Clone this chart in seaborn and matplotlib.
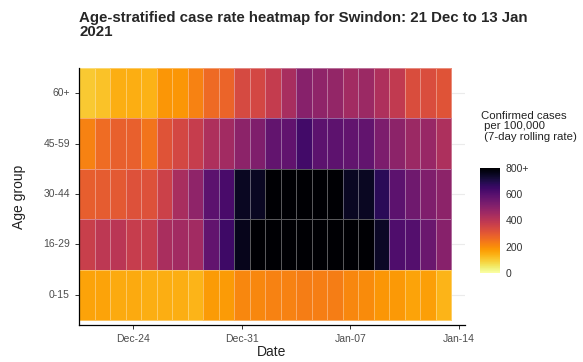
import numpy as np
import pandas as pd
import matplotlib
matplotlib.use("Agg")
import matplotlib.pyplot as plt
import seaborn as sns

# Age groups (top to bottom) and dates
age_groups = ["60+", "45-59", "30-44", "16-29", "0-15"]
dates = pd.date_range("2020-12-21", "2021-01-13", freq="D")

# Case rate per 100,000 (7-day rolling)
rate_60 = [100, 115, 145, 145, 140, 185, 185, 220, 265, 275, 340, 345,
           380, 440, 505, 490, 480, 450, 465, 425, 385, 330, 330, 315]
rate_45 = [220, 260, 285, 285, 245, 315, 345, 375, 425, 450, 495, 520,
           575, 580, 640, 590, 585, 575, 575, 525, 495, 465, 470, 430]
rate_30 = [290, 295, 300, 320, 320, 365, 440, 490, 590, 625, 750, 750,
           880, 900, 920, 900, 860, 750, 750, 680, 590, 550, 520, 495]
rate_16 = [370, 395, 400, 375, 375, 435, 450, 450, 575, 645, 760, 850,
           900, 950, 960, 940, 920, 880, 850, 745, 615, 605, 560, 505]
rate_0 = [165, 165, 150, 150, 145, 145, 145, 135, 175, 175, 210, 210,
          220, 220, 230, 225, 230, 210, 205, 185, 180, 165, 170, 135]

tick_dates = ["Dec-24", "Dec-31", "Jan-07", "Jan-14"]
cbar_ticks = [0, 200, 400, 600, 800]
cbar_labels = ["0", "200", "400", "600", "800+"]

df = pd.DataFrame([rate_60, rate_45, rate_30, rate_16, rate_0],
                  index=age_groups, columns=dates)

sns.set_style("white")
plt.rcParams["font.family"] = ["Liberation Sans", "DejaVu Sans"]

fig = plt.figure(figsize=(5.83, 3.62), dpi=100)
ax = fig.add_axes([79 / 583, 1 - 325 / 362, 386 / 583, 257 / 362])
cax = fig.add_axes([480 / 583, 1 - 273 / 362, 20 / 583, 105 / 362])

sns.heatmap(df, ax=ax, cmap="inferno_r", vmin=0, vmax=800,
            linewidths=0.4, linecolor=(1, 1, 1, 0.35),
            xticklabels=False, yticklabels=True, cbar_ax=cax)

# light horizontal grid behind the tiles
ax.set_axisbelow(True)
for i in range(len(age_groups)):
    ax.axhline(i + 0.5, color="#ebebeb", lw=0.8, zorder=0)

# x axis: dates as day offsets from first tile
start = dates[0]
tick_pos = [(pd.Timestamp(d) - start).days + 0.5 for d in
            ["2020-12-24", "2020-12-31", "2021-01-07", "2021-01-14"]]
ax.set_xticks(tick_pos)
ax.set_xticklabels(tick_dates)
ax.set_yticks(np.arange(len(age_groups)) + 0.5)
ax.set_yticklabels(age_groups, rotation=0)
ax.set_xlim(0, 24.9)
ax.set_ylim(5.1, 0)

for s in ["top", "right"]:
    ax.spines[s].set_visible(False)
for s in ["left", "bottom"]:
    ax.spines[s].set_visible(True)
    ax.spines[s].set_color("black")
    ax.spines[s].set_linewidth(0.9)

ax.tick_params(axis="both", which="major", length=3, width=0.7,
               color="#333333", labelsize=7.5, labelcolor="#4d4d4d", bottom=True, left=True)
ax.set_xlabel("Date", fontsize=10, color="#222222", labelpad=1)
ax.set_ylabel("Age group", fontsize=10, color="#222222", labelpad=12)

fig.text(79 / 583, 1 - 11 / 362,
         "Age-stratified case rate heatmap for Swindon: 21 Dec to 13 Jan\n2021",
         fontsize=10.8, fontweight="bold", ha="left", va="top", linespacing=1.0)

# colorbar
cb = ax.collections[0].colorbar
cb.outline.set_visible(False)
cb.set_ticks(cbar_ticks)
cb.set_ticklabels(cbar_labels)
cax.tick_params(length=3, width=0.6, color="white", direction="in",
                labelsize=7.5, labelcolor="#333333", pad=4)
fig.text(481 / 583, 1 - 111 / 362,
         "Confirmed cases\n per 100,000\n (7-day rolling rate)",
         fontsize=8.2, ha="left", va="top", color="#222222", linespacing=1.05)

fig.savefig("out.png", dpi=100)
